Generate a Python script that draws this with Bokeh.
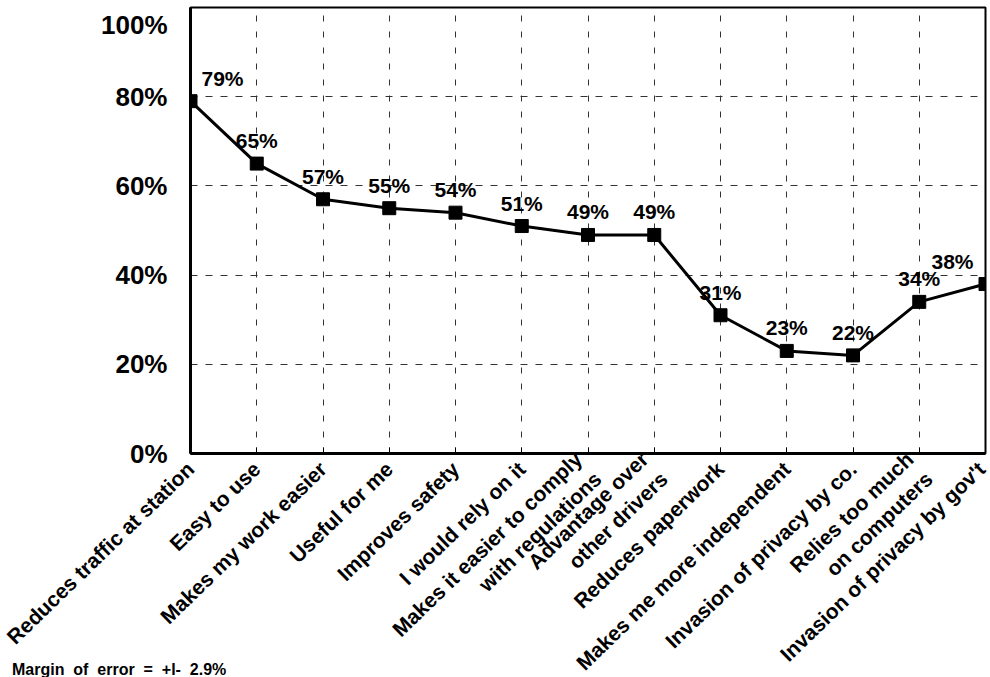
from bokeh.plotting import figure
from bokeh.layouts import column
from bokeh.models import Range1d, FixedTicker, ColumnDataSource, Div
from bokeh.core.properties import value
from bokeh.embed import file_html
from bokeh.resources import INLINE

categories = [
    "Reduces traffic at station",
    "Easy to use",
    "Makes my work easier",
    "Useful for me",
    "Improves safety",
    "I would rely on it",
    "Makes it easier to comply\nwith regulations",
    "Advantage over\nother drivers",
    "Reduces paperwork",
    "Makes me more independent",
    "Invasion of privacy by co.",
    "Relies too much\non computers",
    "Invasion of privacy by gov't",
]
values = [79, 65, 57, 55, 54, 51, 49, 49, 31, 23, 22, 34, 38]
grid_ticks = [20, 40, 60, 80]
y_label_ticks = [0, 20, 40, 60, 80, 96]   # the 100% label sits a little below the top edge
y_tick_labels = ["0%", "20%", "40%", "60%", "80%", "100%"]
note = "Margin  of  error  =  +l-  2.9%"

FONT = "Liberation Sans"

xs = list(range(len(categories)))
labels = [f"{v}%" for v in values]
n = len(values)
x_off = [32 if i == 0 else (-33 if i == n - 1 else 0) for i in range(n)]
src = ColumnDataSource(dict(x=xs, y=values, label=labels, xo=x_off))

BOTTOM = 260
p = figure(frame_width=795, frame_height=446,
           min_border_left=190, min_border_top=7, min_border_right=4,
           min_border_bottom=BOTTOM,
           x_range=Range1d(0, n - 1), y_range=Range1d(0, 100),
           output_backend="svg", toolbar_location=None)
p.background_fill_color = "white"
p.border_fill_color = "white"
p.outline_line_color = "black"
p.outline_line_width = 2

# axes
p.xaxis.ticker = FixedTicker(ticks=xs)
p.xaxis.major_label_overrides = {i: c for i, c in zip(xs, categories)}
p.xaxis.major_label_orientation = 0.77
p.xaxis.major_label_text_font = FONT
p.xaxis.major_label_text_font_style = "bold"
p.xaxis.major_label_text_font_size = "21px"
p.xaxis.major_label_text_color = "black"
p.xaxis.major_label_standoff = 12
p.xaxis.axis_line_width = 3
p.xaxis.axis_line_color = "black"
p.xaxis.major_tick_in = 6
p.xaxis.major_tick_out = 0
p.xaxis.major_tick_line_color = "black"
p.xaxis.minor_tick_line_color = None

p.yaxis.ticker = FixedTicker(ticks=y_label_ticks)
p.yaxis.major_label_overrides = {t: l for t, l in zip(y_label_ticks, y_tick_labels)}
p.yaxis.major_label_text_font = FONT
p.yaxis.major_label_text_font_style = "bold"
p.yaxis.major_label_text_font_size = "26px"
p.yaxis.major_label_text_color = "black"
p.yaxis.major_label_standoff = 23
p.yaxis.axis_line_width = 3
p.yaxis.axis_line_color = "black"
p.yaxis.major_tick_in = 0
p.yaxis.major_tick_out = 0
p.yaxis.minor_tick_line_color = None

# grids
p.xgrid.grid_line_color = "#333333"
p.xgrid.grid_line_width = 1
p.xgrid.grid_line_dash = "6 10"
p.ygrid.ticker = FixedTicker(ticks=grid_ticks)
p.ygrid.grid_line_color = "#333333"
p.ygrid.grid_line_width = 1
p.ygrid.grid_line_dash = "7 8"

# data
p.line("x", "y", source=src, line_color="black", line_width=3)
p.scatter("x", "y", source=src, marker="square", size=13,
          fill_color="black", line_color="black")
p.text("x", "y", text="label", source=src, x_offset="xo", y_offset=-23,
       text_align="center", text_baseline="middle",
       text_font=value(FONT), text_font_style="bold",
       text_font_size="21px", text_color="black")

# footnote, pulled up so it sits at the very bottom of the window
total_h = 7 + 446 + BOTTOM
note_top = 662
note_div = Div(text=note, width=320, height=15,
               margin=(note_top - total_h, 0, 0, 12),
               styles={"font-family": "'Liberation Sans', Arial, sans-serif",
                       "font-weight": "bold", "font-size": "16px",
                       "line-height": "16px", "white-space": "pre",
                       "color": "black"})

layout = column(p, note_div, spacing=0)
open("out.html", "w").write(file_html(layout, INLINE))
